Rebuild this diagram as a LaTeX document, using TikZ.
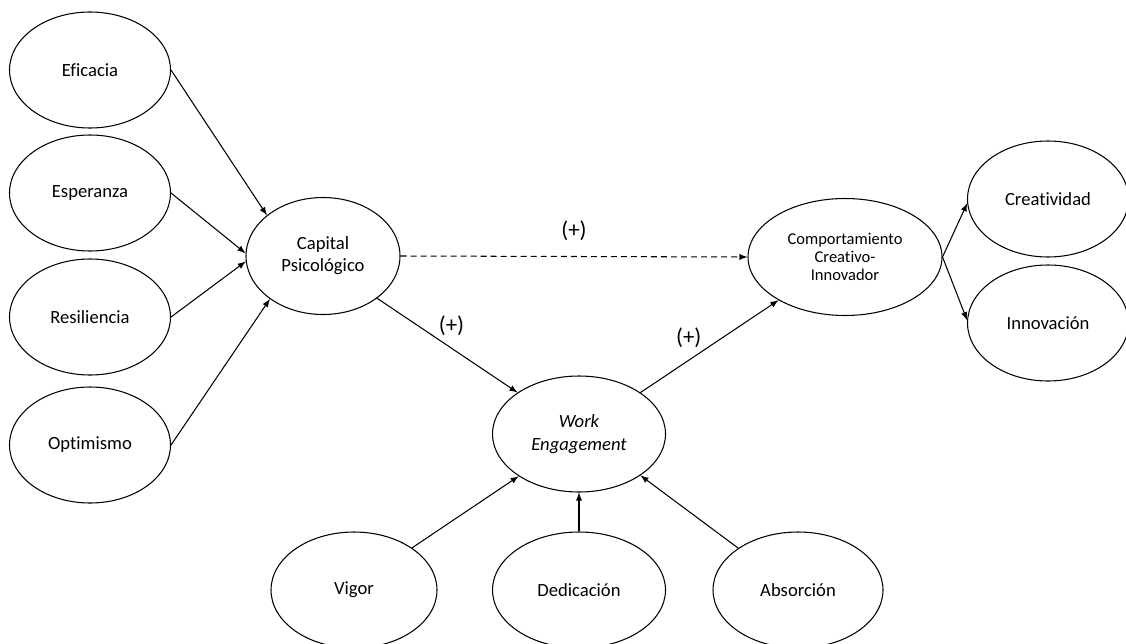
\documentclass[tikz,border=0pt]{standalone}
\usepackage{fontspec}
\setmainfont{Carlito}[Ligatures=NoCommon]
\usepackage{tikz}
\usetikzlibrary{shapes.geometric,arrows}
\tikzstyle{var} = [ellipse,draw,line width=0.6pt,inner sep=0pt,minimum width=3.22cm,minimum height=2.32cm,align=center,font=\fontsize{10.6}{12.5}\selectfont]
\tikzstyle{arrow} = [line width=0.6pt,->,>=latex]
\tikzstyle{signo} = [inner sep=0pt,font=\fontsize{13}{15}\selectfont]

\begin{document}
\begin{tikzpicture}
	\useasboundingbox (0,0) rectangle (22.52,12.86);
	% dimensiones
	\node[var] (efi) at (1.80,11.46) {Eficacia};
	\node[var] (esp) at (1.80,9.00) {Esperanza};
	\node[var] (res) at (1.80,6.52) {Resiliencia};
	\node[var] (opt) at (1.80,3.96) {Optimismo};
	\node[var,minimum width=3.08cm,minimum height=2.34cm] (cap) at (6.46,7.74) {Capital\\Psicológico};
	\node[var,minimum width=3.88cm,minimum height=2.34cm,font=\fontsize{9.4}{10.4}\selectfont] (com) at (16.90,7.72) {Comportamiento\\Creativo-\\Innovador};
	\node[var] (cre) at (20.96,8.88) {Creatividad};
	\node[var] (inn) at (20.96,6.40) {Innovación};
	\node[var,minimum width=3.46cm,font=\fontsize{10.6}{13}\selectfont\itshape] (we) at (11.58,4.18) {Work\\Engagement};
	\node[var,minimum width=3.32cm] (vig) at (7.08,1.06) {Vigor};
	\node[var,minimum width=3.46cm] (ded) at (11.58,1.06) {Dedicación};
	\node[var,minimum width=3.40cm] (abs) at (15.96,1.06) {Absorción};
	% relaciones
	\draw[arrow] (efi.east) -- (cap.144);
	\draw[arrow] (esp.east) -- (cap.178);
	\draw[arrow] (res.east) -- (cap.184);
	\draw[arrow] (opt.east) -- (cap.219);
	\draw[arrow,dash pattern=on 3.4pt off 2.3pt] (cap.east) -- (com.west) node[signo,midway,above=0.3cm] {(+)};
	\draw[arrow] (cap.322) -- (we.146) node[signo,pos=0.53,above=0.24cm] {(+)};
	\draw[arrow] (we.34) -- (com.213) node[signo,pos=0.35,above=0.25cm] {(+)};
	\draw[arrow] (com.east) -- (cre.183);
	\draw[arrow] (com.east) -- (inn.178);
	\draw[arrow] (vig.36) -- (we.215);
	\draw[arrow] (ded.north) -- (we.south);
	\draw[arrow] (abs.145) -- (we.326);
\end{tikzpicture}
\end{document}
